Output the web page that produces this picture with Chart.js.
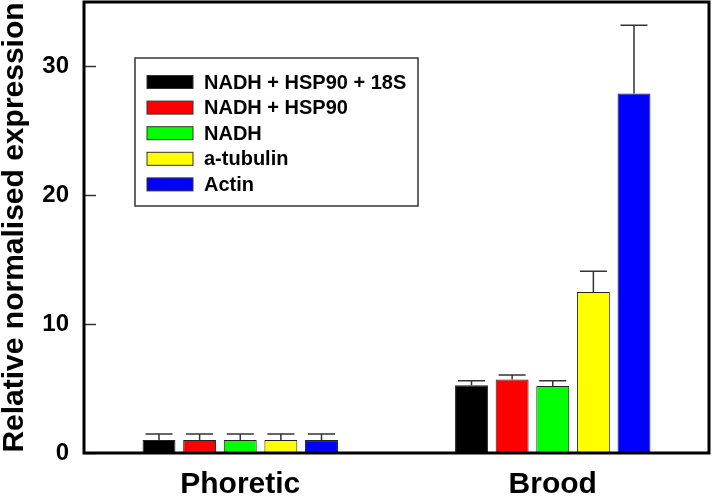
<!DOCTYPE html>
<html>
<head>
<meta charset="utf-8">
<script src="https://cdn.jsdelivr.net/npm/chart.js@4"></script>
<style>
  html, body { margin: 0; padding: 0; background: #fff; }
  #wrap { width: 713px; height: 496px; }
</style>
</head>
<body>
<div id="wrap"><canvas id="chart" width="713" height="496"></canvas></div>
<script>
// data
const groups = ['Phoretic', 'Brood'];
const seriesNames = ['NADH + HSP90 + 18S', 'NADH + HSP90', 'NADH', 'a-tubulin', 'Actin'];
const seriesColors = ['#000000', '#ff0000', '#00ff00', '#ffff00', '#0000ff'];
const nadhHspS18 = [1.0, 5.25];
const nadhHsp = [1.0, 5.7];
const nadh = [1.0, 5.2];
const aTubulin = [1.0, 12.5];
const actin = [1.0, 27.9];
const nadhHspS18Err = [0.48, 0.35];
const nadhHspErr = [0.48, 0.35];
const nadhErr = [0.48, 0.4];
const aTubulinErr = [0.48, 1.6];
const actinErr = [0.48, 5.3];
const yTicks = [0, 10, 20, 30];

const values = [nadhHspS18, nadhHsp, nadh, aTubulin, actin];
const errors = [nadhHspS18Err, nadhHspErr, nadhErr, aTubulinErr, actinErr];
const FONT = '"Liberation Sans", Arial, sans-serif';

// upward error bars with caps
const errorBars = {
  id: 'errorBars',
  afterDatasetsDraw(chart) {
    const ctx = chart.ctx;
    const y = chart.scales.y;
    ctx.save();
    ctx.strokeStyle = '#333';
    ctx.lineWidth = 1.5;
    chart.data.datasets.forEach((ds, i) => {
      const meta = chart.getDatasetMeta(i);
      meta.data.forEach((bar, j) => {
        const top = y.getPixelForValue(ds.data[j] + ds.errors[j]);
        ctx.beginPath();
        ctx.moveTo(bar.x, bar.y);
        ctx.lineTo(bar.x, top);
        ctx.moveTo(bar.x - 13.5, top);
        ctx.lineTo(bar.x + 13.5, top);
        ctx.stroke();
      });
    });
    ctx.restore();
  }
};

// frame, inward ticks and the boxed legend
const frame = {
  id: 'frame',
  afterDraw(chart) {
    const ctx = chart.ctx;
    const a = chart.chartArea;
    const y = chart.scales.y;
    ctx.save();
    ctx.strokeStyle = '#333';
    ctx.lineWidth = 1.5;
    y.ticks.forEach(t => {
      const py = Math.round(y.getPixelForValue(t.value)) + 0.5;
      ctx.beginPath();
      ctx.moveTo(a.left, py);
      ctx.lineTo(a.left + 12, py);
      ctx.stroke();
    });
    ctx.strokeStyle = '#000';
    ctx.lineWidth = 3;
    ctx.strokeRect(a.left, a.top, a.right - a.left, a.bottom - a.top);

    // legend
    const lx = a.left + 51, ly = a.top + 56, lw = 283, lh = 148;
    ctx.lineWidth = 1.5;
    ctx.strokeStyle = '#333';
    ctx.fillStyle = '#fff';
    ctx.fillRect(lx, ly, lw, lh);
    ctx.strokeRect(lx, ly, lw, lh);
    ctx.font = 'bold 20px ' + FONT;
    ctx.textBaseline = 'middle';
    chart.data.datasets.forEach((ds, i) => {
      const cy = ly + 24 + i * 25.6;
      ctx.fillStyle = ds.backgroundColor;
      ctx.fillRect(lx + 12, cy - 6.5, 46, 13);
      ctx.lineWidth = 1;
      ctx.strokeStyle = '#333';
      ctx.strokeRect(lx + 12, cy - 6.5, 46, 13);
      ctx.fillStyle = '#000';
      ctx.fillText(ds.label, lx + 69, cy + 1);
    });
    ctx.restore();
  }
};

const datasets = seriesNames.map((name, i) => ({
  label: name,
  data: values[i],
  errors: errors[i],
  backgroundColor: seriesColors[i],
  borderColor: '#222',
  borderWidth: 1,
  categoryPercentage: 0.65,
  barPercentage: 0.81
}));

new Chart(document.getElementById('chart'), {
  type: 'bar',
  data: { labels: groups, datasets: datasets },
  options: {
    responsive: false,
    animation: false,
    layout: { padding: { top: 2, right: 4, left: 0, bottom: 0 } },
    plugins: {
      legend: { display: false },
      tooltip: { enabled: false }
    },
    scales: {
      x: {
        grid: { display: false },
        border: { display: false },
        ticks: {
          color: '#000',
          padding: 6,
          font: { family: FONT, size: 30, weight: 'bold' }
        },
        afterFit(scale) {
          scale.height = 43;
          scale.paddingLeft = 0;
          scale.paddingRight = 0;
        }
      },
      y: {
        min: 0,
        max: 35,
        grid: { display: false },
        border: { display: false },
        afterBuildTicks(scale) { scale.ticks = yTicks.map(v => ({ value: v })); },
        ticks: {
          color: '#000',
          padding: 7,
          font: { family: FONT, size: 24, weight: 'bold' }
        },
        title: {
          display: true,
          text: 'Relative normalised expression',
          color: '#000',
          padding: 0,
          font: { family: FONT, size: 30, weight: 'bold', lineHeight: 1 }
        },
        afterFit(scale) {
          scale.width = 84;
          scale.paddingTop = 0;
          scale.paddingBottom = 0;
        }
      }
    }
  },
  plugins: [errorBars, frame]
});
</script>
</body>
</html>
